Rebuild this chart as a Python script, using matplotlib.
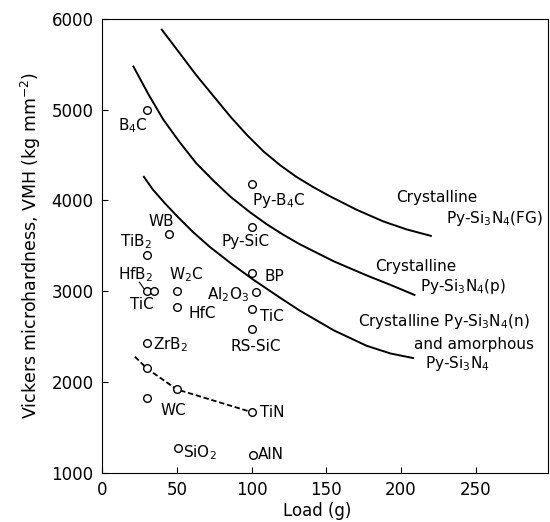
import numpy as np
import matplotlib
matplotlib.use("Agg")
import matplotlib.pyplot as plt

plt.rcParams['mathtext.default'] = 'regular'
plt.rcParams['font.family'] = 'DejaVu Sans'

# Data: single measurements (load g, VMH kg/mm2)
pt_names = ["B4C", "Py-B4C", "Py-SiC", "WB", "TiB2", "HfB2", "TiC", "W2C", "HfC",
            "BP", "Al2O3", "TiC100", "RS-SiC", "ZrB2", "WC", "SiO2", "AlN"]
pt_load = [30, 100, 100, 45, 30, 30, 35, 50, 50, 100, 103, 100, 100, 30, 30, 51, 101]
pt_vmh = [5000, 4180, 3710, 3630, 3400, 3000, 3000, 3000, 2830,
          3200, 2990, 2800, 2580, 2430, 1830, 1280, 1200]

# dashed trend (points on it)
dash_load = [22, 30, 50, 100]
dash_vmh = [2280, 2150, 1920, 1670]

# Py-Si3N4 curves
fg_load = [40, 52, 63, 75, 86, 97, 108, 119, 130, 141, 152, 170, 188, 204, 220]
fg_vmh = [5880, 5620, 5380, 5140, 4920, 4720, 4540, 4390, 4260, 4150, 4050, 3900, 3770, 3680, 3610]

p_load = [21, 31, 41, 52, 63, 75, 86, 99, 110, 121, 132, 155, 177, 193, 209]
p_vmh = [5475, 5170, 4890, 4640, 4410, 4210, 4040, 3870, 3740, 3625, 3520, 3330, 3175, 3070, 2960]

n_load = [28, 34, 42, 50, 61, 72, 86, 101, 119, 132, 155, 177, 193, 208]
n_vmh = [4260, 4120, 3970, 3830, 3650, 3490, 3310, 3130, 2930, 2790, 2570, 2400, 2315, 2265]

fig = plt.figure(figsize=(5.5, 5.22), dpi=100)
ax = fig.add_axes([0.1855, 0.094, 0.81, 0.87])

ax.plot(fg_load, fg_vmh, color="black", lw=1.4)
ax.plot(p_load, p_vmh, color="black", lw=1.4)
ax.plot(n_load, n_vmh, color="black", lw=1.4)
ax.plot(dash_load, dash_vmh, color="black", lw=1.3, ls=(0, (3, 1.5)))
ax.plot(dash_load[1:], dash_vmh[1:], 'o', ms=5.5, mfc="white", mec="black", mew=1.0)
ax.plot(pt_load, pt_vmh, 'o', ms=5.5, mfc="white", mec="black", mew=1.0, ls="none")

fs = 11
labels = [
    (11, 4820, "B$_4$C"), (100, 4000, "Py-B$_4$C"), (80, 3550, "Py-SiC"),
    (31, 3770, "WB"), (12, 3550, "TiB$_2$"), (11, 3180, "HfB$_2$"),
    (19, 2850, "TiC"), (45, 3180, "W$_2$C"), (58, 2760, "HfC"),
    (109, 3160, "BP"), (70, 2960, "Al$_2$O$_3$"), (106, 2720, "TiC"),
    (86, 2390, "RS-SiC"), (34, 2410, "ZrB$_2$"), (39, 1690, "WC"),
    (54, 1220, "SiO$_2$"), (104, 1200, "AlN"), (106, 1670, "TiN"),
    (197, 4030, "Crystalline"), (230, 3800, "Py-Si$_3$N$_4$(FG)"),
    (183, 3275, "Crystalline"), (213, 3050, "Py-Si$_3$N$_4$(p)"),
    (171, 2670, "Crystalline Py-Si$_3$N$_4$(n)"), (209, 2410, "and amorphous"),
    (216, 2205, "Py-Si$_3$N$_4$"),
]
for x, y, s in labels:
    ax.text(x, y, s, fontsize=fs, ha="left", va="center")

# leader from HfB2 label to its point
ax.plot([25, 28], [3100, 3030], color="black", lw=0.8)

ax.set_xlim(0, 298)
ax.set_ylim(1000, 6000)
ax.set_xticks([0, 50, 100, 150, 200, 250])
ax.set_yticks([1000, 2000, 3000, 4000, 5000, 6000])
ax.tick_params(direction="in", length=4, width=0.8, labelsize=12, pad=6)
for s in ax.spines.values():
    s.set_linewidth(0.8)
ax.set_xlabel("Load (g)", fontsize=12, labelpad=2)
ax.xaxis.label.set_x(0.482)
ax.set_ylabel("Vickers microhardness, VMH (kg mm$^{-2}$)", fontsize=12.5, labelpad=6)

fig.savefig("out.png", dpi=100)
